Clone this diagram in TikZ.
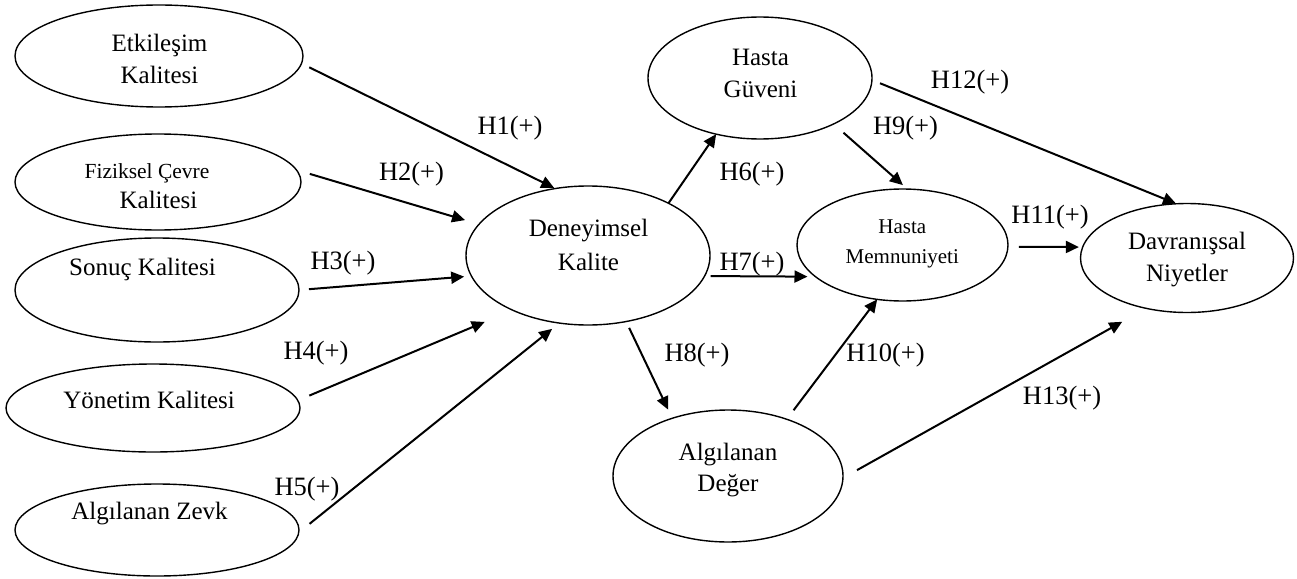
\documentclass[tikz,border=0pt]{standalone}
\usepackage{fontspec}
\setmainfont{Liberation Serif}
\usetikzlibrary{arrows.meta,shapes.geometric}

\begin{document}
\begin{tikzpicture}[x=1pt,y=-1pt,>={Triangle[length=13pt,width=12pt]},
  ell/.style={draw,ellipse,line width=1.4pt,inner sep=0pt,outer sep=0pt},
  txt/.style={inner sep=0pt,align=center,anchor=base,font=\fontsize{25}{32.5}\selectfont},
  lbl/.style={inner sep=0pt,font=\fontsize{26.5}{32}\selectfont},
  hyp/.style={->,line width=2pt}]
\useasboundingbox (0,0) rectangle (1297,578);

\node[ell,minimum width=288pt,minimum height=102pt] (etk) at (159,56) {};
\node[ell,minimum width=286pt,minimum height=96pt] (fiz) at (158,182) {};
\node[ell,minimum width=284pt,minimum height=104pt] (son) at (157,290) {};
\node[ell,minimum width=294pt,minimum height=88pt] (yon) at (153,408) {};
\node[ell,minimum width=284pt,minimum height=92pt] (zev) at (157,530) {};
\node[ell,minimum width=244pt,minimum height=139pt] (den) at (588,255.5) {};
\node[ell,minimum width=224pt,minimum height=122pt] (gun) at (760,78) {};
\node[ell,minimum width=211pt,minimum height=112pt] (mem) at (902.5,245) {};
\node[ell,minimum width=230pt,minimum height=132pt] (deg) at (728,476) {};
\node[ell,minimum width=213pt,minimum height=109pt] (dav) at (1187,258) {};

\node[txt,font=\fontsize{25}{32}\selectfont] (etk-t) at (159.5,83) {Etkileşim\\Kalitesi};
\node[txt,font=\fontsize{25}{30}\selectfont] (fiz-t) at (158.5,208.3)
  {{\fontsize{21.5}{30}\selectfont Fiziksel Çevre\hspace*{23pt}}\\Kalitesi};
\node[txt] (son-t) at (142.5,275.5) {Sonuç Kalitesi};
\node[txt] (yon-t) at (149,408.3) {Yönetim Kalitesi};
\node[txt] (zev-t) at (149.5,519.3) {Algılanan Zevk};
\node[txt,font=\fontsize{25}{33.3}\selectfont] (den-t) at (588.5,270) {Deneyimsel\\Kalite};
\node[txt,font=\fontsize{25}{32.3}\selectfont] (gun-t) at (760.5,97.3) {Hasta\\Güveni};
\node[txt,font=\fontsize{21}{30}\selectfont] (mem-t) at (902.3,263.3) {Hasta\\Memnuniyeti};
\node[txt,font=\fontsize{25}{31.7}\selectfont] (deg-t) at (728,491.7) {Algılanan\\Değer};
\node[txt,font=\fontsize{25}{32.7}\selectfont] (dav-t) at (1187,281.7) {Davranışsal\\Niyetler};

\draw[hyp,shorten <=8.7pt,shorten >=1.3pt] (etk.-3.3) -- (den.116.8);
\draw[hyp,shorten <=14pt,shorten >=14.6pt] (fiz.5.4) -- (den.164);
\draw[hyp,shorten <=10pt,shorten >=7.3pt] (son.0) -- (den.190.7);
\draw[hyp,shorten <=12.5pt,shorten >=30.4pt] (yon.3.2) -- (den.216.2);
\draw[hyp,shorten <=13.8pt,shorten >=9.3pt] (zev.-1.9) -- (den.247.7);
\draw[hyp] (den.33.3) -- (gun.232.5);
\draw[hyp,shorten <=6pt,shorten >=8pt] (den.-10.5) -- (mem.200.3);
\draw[hyp,shorten <=7pt,shorten >=9.6pt] (den.-60.8) -- (deg.134.8);
\draw[hyp,shorten <=13.2pt,shorten >=6pt] (gun.-32.3) -- (mem.85.8);
\draw[hyp,shorten <=11.3pt] (deg.44.4) -- (mem.245.8);
\draw[hyp,shorten <=11pt,shorten >=3.8pt] (mem.-1.6) -- (dav.174.6);
\draw[hyp,shorten <=8.7pt,shorten >=0.5pt] (gun.-1.4) -- (dav.101.3);
\draw[hyp,shorten <=16.1pt,shorten >=27.5pt] (deg.-1.7) -- (dav.231.3);

\node[lbl] (h1) at (510,128) {H1(+)};
\node[lbl] (h2) at (411.5,174) {H2(+)};
\node[lbl] (h3) at (343,263) {H3(+)};
\node[lbl] (h4) at (316,353) {H4(+)};
\node[lbl] (h5) at (307,489) {H5(+)};
\node[lbl] (h6) at (752,174) {H6(+)};
\node[lbl] (h7) at (752,264) {H7(+)};
\node[lbl] (h8) at (697,355) {H8(+)};
\node[lbl] (h9) at (905.5,128) {H9(+)};
\node[lbl] (h10) at (885.5,355) {H10(+)};
\node[lbl] (h11) at (1050,217) {H11(+)};
\node[lbl] (h12) at (970,82) {H12(+)};
\node[lbl] (h13) at (1062,398.5) {H13(+)};
\end{tikzpicture}
\end{document}
